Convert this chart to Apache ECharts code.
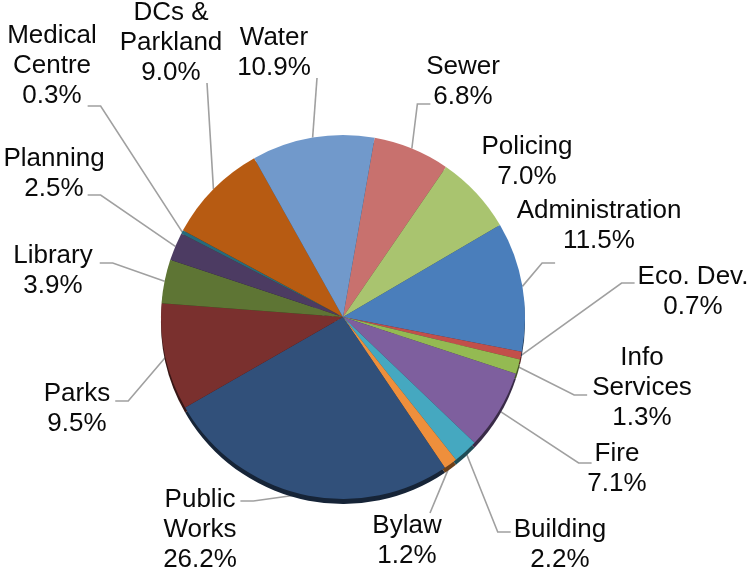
<!DOCTYPE html>
<html>
<head>
<meta charset="utf-8">
<script src="https://cdn.jsdelivr.net/npm/echarts@6/dist/echarts.min.js"></script>
<style>
html,body{margin:0;padding:0;background:#fff}
#chart{width:751px;height:572px}
</style>
</head>
<body>
<div id="chart"></div>
<script>
// ---- data ----
const categories = ['Sewer', 'Policing', 'Administration', 'Eco. Dev.', 'Info\nServices', 'Fire', 'Building', 'Bylaw', 'Public\nWorks', 'Parks', 'Library', 'Planning', 'Medical\nCentre', 'DCs &\nParkland', 'Water'];
const values = [6.8, 7.0, 11.5, 0.7, 1.3, 7.1, 2.2, 1.2, 26.2, 9.5, 3.9, 2.5, 0.3, 9.0, 10.9];
const colors = ['#C8716E', '#A9C46F', '#4A7EBB', '#C24F4A', '#94BA52', '#7E5F9E', '#45A8C0', '#EE8F3C', '#31507A', '#7A302E', '#5E7534', '#4C3B62', '#276A7C', '#B75B12', '#7199CB'];

// ---- label placement (layout only) ----
const labelPlace = [
  {x: 463, y: 82,  side: 'l', line: 1, dy: 7,  gap: 3},
  {x: 527, y: 162, side: null},
  {x: 599, y: 226, side: 'l', line: 1, dy: 22, gap: 8},
  {x: 693, y: 292, side: 'l', line: 0, dy: 6,  gap: 3},
  {x: 642, y: 388, side: 'l', line: 1, dy: 7,  gap: 5},
  {x: 617, y: 469, side: 'l', line: 0, dy: 9,  gap: 3},
  {x: 560, y: 545, side: 'l', line: 0, dy: 2,  gap: 3},
  {x: 407, y: 541, side: 't', dx: 23},
  {x: 200, y: 530, side: 'r', line: 0, dy: 1,  gap: 5},
  {x: 77,  y: 409, side: 'r', line: 0, dy: 7,  gap: 5},
  {x: 53,  y: 271, side: 'r', line: 0, dy: 7,  gap: 7},
  {x: 54,  y: 174, side: 'r', line: 1, dy: 6,  gap: 4},
  {x: 52,  y: 66,  side: 'r', line: 2, dy: 10, gap: 6},
  {x: 171, y: 43,  side: 'b', dx: 36},
  {x: 274, y: 53,  side: 'b', dx: 43}
];

const FONT_SIZE = 26, LH = 30, TICK = 13;
const FONT_FAMILY = '"Liberation Sans", Arial, sans-serif';
const ctx = document.createElement('canvas').getContext('2d');
ctx.font = FONT_SIZE + 'px ' + FONT_FAMILY;
function measure(t) { return ctx.measureText(t).width; }
function labelText(i) { return categories[i] + '\n' + values[i].toFixed(1) + '%'; }

function darken(hex, k) {
  const n = parseInt(hex.slice(1), 16);
  const r = Math.round(((n >> 16) & 255) * k), g = Math.round(((n >> 8) & 255) * k), b = Math.round((n & 255) * k);
  return 'rgb(' + r + ',' + g + ',' + b + ')';
}

const chart = echarts.init(document.getElementById('chart'));
const CENTER = [343, 317], R = 182;

const mainData = categories.map((name, i) => {
  const d = {name: name, value: values[i], itemStyle: {color: colors[i]}};
  if (!labelPlace[i].side) d.labelLine = {show: false};
  return d;
});
const shadowData = categories.map((name, i) => ({
  name: name, value: values[i],
  itemStyle: {color: darken(colors[i], 0.45)}
}));

chart.setOption({
  backgroundColor: '#fff',
  animation: false,
  series: [
    {
      type: 'pie',
      silent: true,
      center: [CENTER[0], CENTER[1] + 5],
      radius: R,
      startAngle: 80,
      clockwise: true,
      label: {show: false},
      labelLine: {show: false},
      emphasis: {disabled: true},
      data: shadowData
    },
    {
      type: 'pie',
      center: CENTER,
      radius: R,
      startAngle: 80,
      clockwise: true,
      avoidLabelOverlap: false,
      emphasis: {disabled: true},
      itemStyle: {borderWidth: 0},
      label: {
        show: true,
        position: 'outside',
        overflow: 'none',
        fontSize: FONT_SIZE,
        fontFamily: FONT_FAMILY,
        lineHeight: LH,
        color: '#0a0a0a',
        formatter: p => labelText(p.dataIndex)
      },
      labelLine: {
        show: true, length: 10, length2: 10,
        lineStyle: {color: '#a0a0a0', width: 1.6}
      },
      labelLayout: function (params) {
        const i = params.dataIndex;
        const P = labelPlace[i];
        const res = {x: P.x, y: P.y, align: 'center', verticalAlign: 'middle'};
        const lines = labelText(i).split('\n');
        const n = lines.length;
        const pts = params.labelLinePoints;
        if (P.side && pts && pts.length) {
          const s = [pts[0][0], pts[0][1]];
          const top = P.y - n * LH / 2;
          if (P.side === 'l' || P.side === 'r') {
            const ly = top + LH * (P.line + 0.5) + P.dy;
            const w = measure(lines[P.line]);
            if (P.side === 'l') {
              const ex = P.x - w / 2 - P.gap;
              res.labelLinePoints = [s, [ex - TICK, ly], [ex, ly]];
            } else {
              const ex = P.x + w / 2 + P.gap;
              res.labelLinePoints = [s, [ex + TICK, ly], [ex, ly]];
            }
          } else {
            const ex = P.x + P.dx;
            const ey = P.side === 'b' ? top + n * LH - 5 : top + 2;
            res.labelLinePoints = [s, [(s[0] + ex) / 2, (s[1] + ey) / 2], [ex, ey]];
          }
        }
        return res;
      },
      data: mainData
    }
  ]
});
</script>
</body>
</html>
